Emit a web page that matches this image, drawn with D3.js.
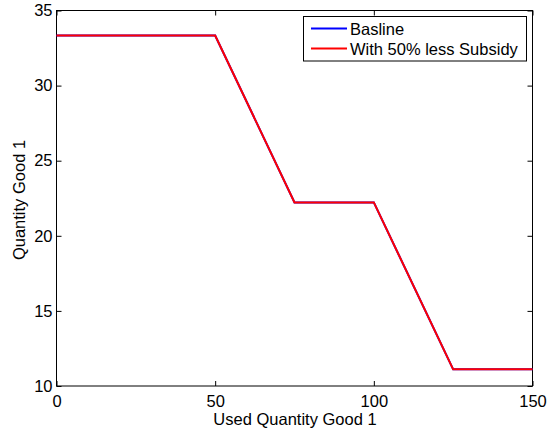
<!DOCTYPE html>
<html>
<head>
<meta charset="utf-8">
<script src="https://cdn.jsdelivr.net/npm/d3@7/dist/d3.min.js"></script>
<style>
  html, body { margin: 0; padding: 0; background: #fff; }
  svg text { font-family: "Liberation Sans", Arial, Helvetica, sans-serif; }
</style>
</head>
<body>
<svg id="chart" width="552" height="432"></svg>
<script>
// Piecewise quantity schedule
const usedQuantity = [0, 50, 75, 100, 125, 150];
const baseline = [33.333, 33.333, 22.222, 22.222, 11.111, 11.111];
const lessSubsidy = [33.333, 33.333, 22.222, 22.222, 11.111, 11.111];
const xTicks = [0, 50, 100, 150];
const yTicks = [10, 15, 20, 25, 30, 35];
const seriesNames = ["Basline", "With 50% less Subsidy"];
const seriesColors = ["#0000ff", "#ff0000"];

const svg = d3.select("#chart");
const plot = { left: 56.5, right: 532.5, top: 10.5, bottom: 386 };

const x = d3.scaleLinear().domain([0, 150]).range([plot.left, plot.right]);
const y = d3.scaleLinear().domain([10, 35]).range([plot.bottom, plot.top]);

const tickLen = 5;
const fontSize = 16.5;

// Frame
svg.append("rect")
  .attr("x", plot.left).attr("y", plot.top)
  .attr("width", plot.right - plot.left).attr("height", plot.bottom - plot.top)
  .attr("fill", "none").attr("stroke", "#000").attr("stroke-width", 1);

// Axes with inward ticks on all four sides
const bottomAxis = d3.axisBottom(x).tickValues(xTicks).tickSize(-tickLen).tickPadding(9);
const topAxis = d3.axisTop(x).tickValues(xTicks).tickSize(-tickLen).tickFormat("");
const leftAxis = d3.axisLeft(y).tickValues(yTicks).tickSize(-tickLen).tickPadding(4);
const rightAxis = d3.axisRight(y).tickValues(yTicks).tickSize(-tickLen).tickFormat("");

function styleAxis(g) {
  g.select(".domain").remove();
  g.selectAll(".tick line").attr("stroke", "#000");
  g.selectAll(".tick text").attr("fill", "#000").style("font-size", fontSize + "px");
}

svg.append("g").attr("transform", `translate(0,${plot.bottom})`).call(bottomAxis).call(styleAxis);
svg.append("g").attr("transform", `translate(0,${plot.top})`).call(topAxis).call(styleAxis);
svg.append("g").attr("transform", `translate(${plot.left},0)`).call(leftAxis).call(styleAxis);
svg.append("g").attr("transform", `translate(${plot.right},0)`).call(rightAxis).call(styleAxis);

// Series lines
const line = d3.line().x((d, i) => x(usedQuantity[i])).y(d => y(d));
[baseline, lessSubsidy].forEach((vals, k) => {
  svg.append("path")
    .datum(vals)
    .attr("d", line)
    .attr("fill", "none")
    .attr("stroke", seriesColors[k])
    .attr("stroke-width", 2)
    .attr("stroke-linejoin", "miter");
});

// Axis labels
svg.append("text")
  .attr("x", 295).attr("y", 425)
  .attr("text-anchor", "middle").style("font-size", fontSize + "px")
  .text("Used Quantity Good 1");

svg.append("text")
  .attr("transform", `translate(25,200) rotate(-90)`)
  .attr("text-anchor", "middle").style("font-size", fontSize + "px")
  .text("Quantity Good 1");

// Legend
const legend = svg.append("g");
legend.append("rect")
  .attr("x", 303.5).attr("y", 16.5).attr("width", 223).attr("height", 44.5)
  .attr("fill", "#fff").attr("stroke", "#000").attr("stroke-width", 1);
seriesNames.forEach((name, k) => {
  const ly = 28.5 + k * 20;
  legend.append("line")
    .attr("x1", 311).attr("x2", 347).attr("y1", ly).attr("y2", ly)
    .attr("stroke", seriesColors[k]).attr("stroke-width", 2);
  legend.append("text")
    .attr("x", 350).attr("y", ly + 6.5)
    .style("font-size", fontSize + "px")
    .text(name);
});
</script>
</body>
</html>
